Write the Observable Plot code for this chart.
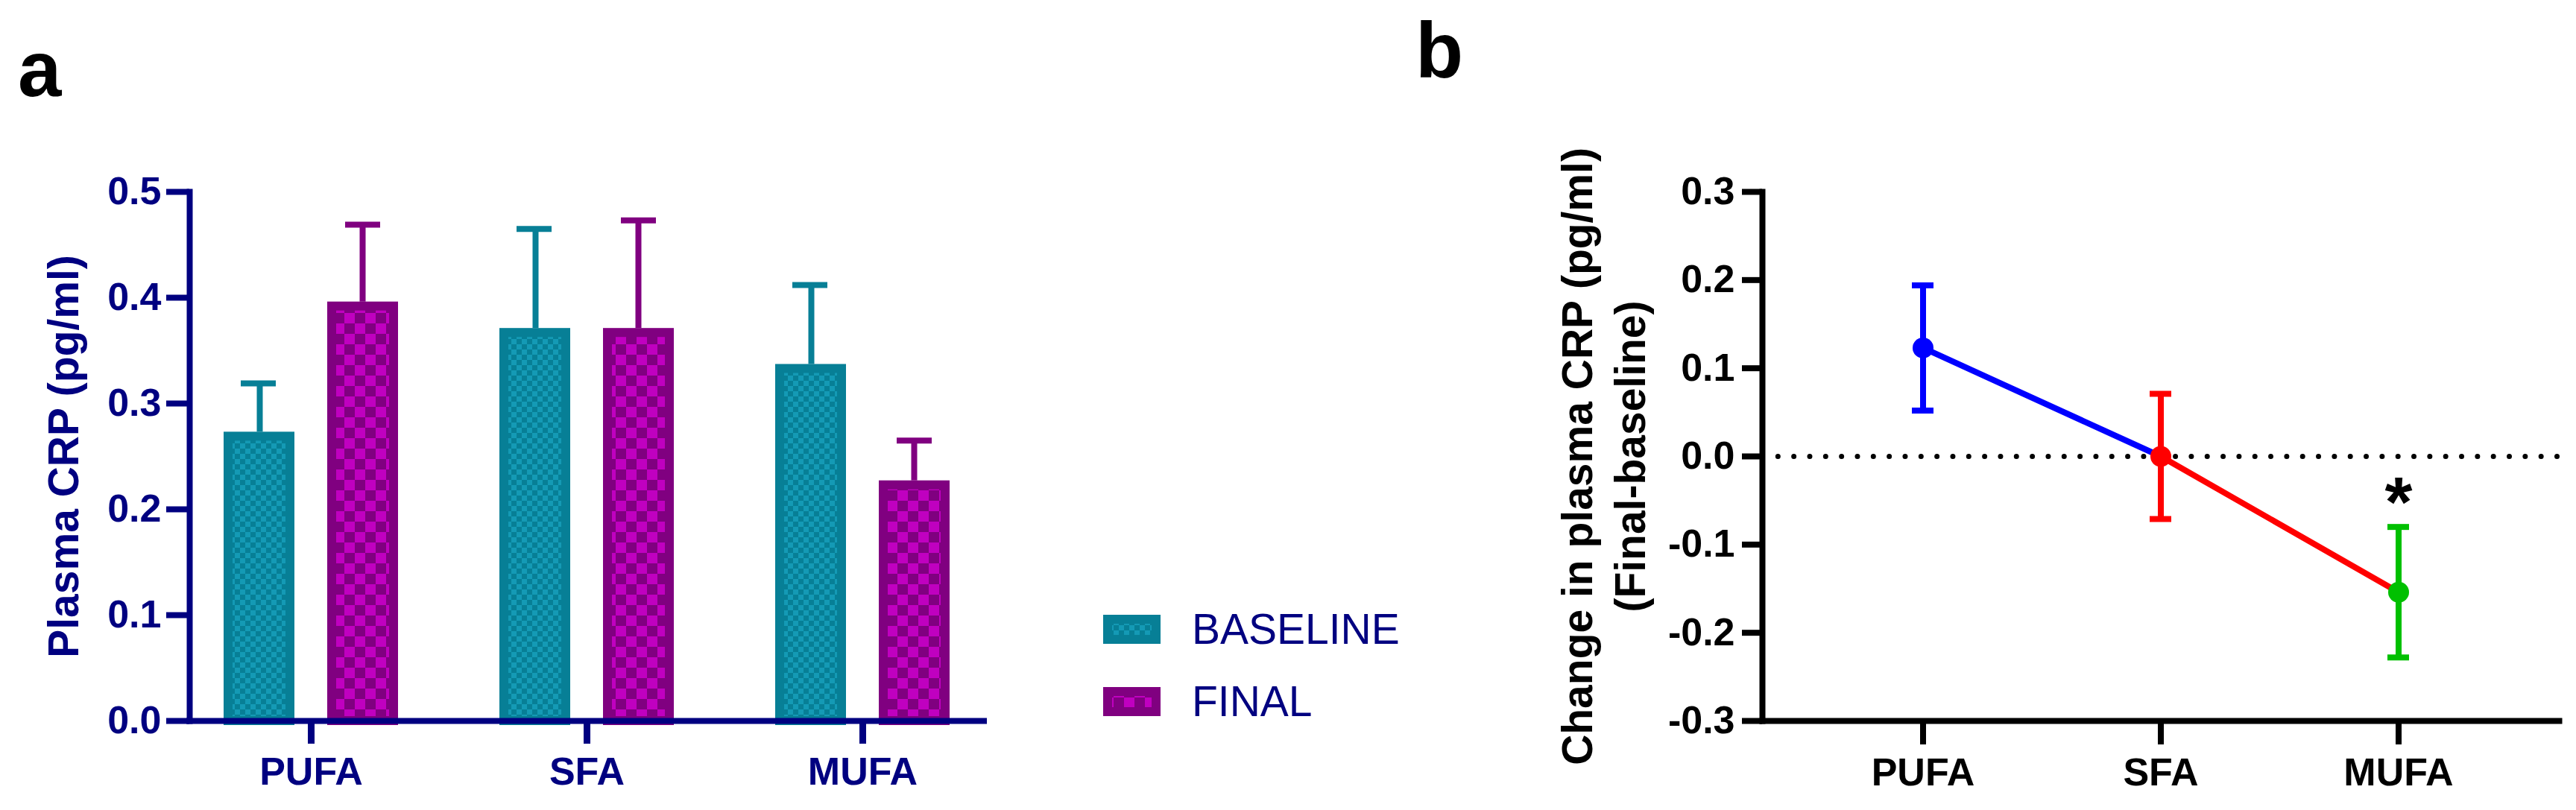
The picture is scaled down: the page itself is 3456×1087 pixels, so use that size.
<!DOCTYPE html>
<html>
<head>
<meta charset="utf-8">
<script src="https://cdn.jsdelivr.net/npm/d3@7"></script>
<script src="https://cdn.jsdelivr.net/npm/@observablehq/plot@0.6"></script>
<style>
  html, body { margin: 0; padding: 0; background: #fff; }
  #root { position: relative; width: 3456px; height: 1087px; overflow: hidden; font-family: "Liberation Sans", Arial, sans-serif; }
  .panel { position: absolute; top: 0; }
  .tag { position: absolute; font-weight: bold; font-size: 105px; line-height: 1; color: #000; }
  .lg-row { position: absolute; left: 1480px; height: 39px; display: flex; align-items: center; color: #000080; font-size: 57px; line-height: 1; }
  .lg-row svg { display: block; margin-right: 42px; }
</style>
</head>
<body>
<div id="root">
  <div class="tag" style="left:24px; top:40px;">a</div>
  <div class="tag" style="left:1899px; top:15px;">b</div>
  <div id="panelA" class="panel" style="left:0px;"></div>
  <div id="legend"></div>
  <div id="panelB" class="panel" style="left:1900px;"></div>
</div>
<script>
// ---------- data ----------
const categories = ["PUFA", "SFA", "MUFA"];
const series = ["BASELINE", "FINAL"];
const baselineMean = [0.273, 0.371, 0.337];
const baselineSE = [0.046, 0.094, 0.075];
const finalMean = [0.396, 0.371, 0.227];
const finalSE = [0.073, 0.102, 0.038];
const ticksA = [0, 0.1, 0.2, 0.3, 0.4, 0.5];

const changeMean = [0.123, 0.000, -0.154];
const changeSE = [0.071, 0.071, 0.074];
const significance = ["", "", "*"];
const ticksB = [-0.3, -0.2, -0.1, 0, 0.1, 0.2, 0.3];

const labelA = "Plasma CRP (pg/ml)";
const labelB = "Change in plasma CRP (pg/ml)\n(Final-baseline)";

// ---------- styles ----------
const NAVY = "#000080";
const TEAL = "#077f96";
const TEAL_LIGHT = "#149ab5";
const PURPLE = "#800080";
const MAGENTA = "#c000c0";
const FONT = "Liberation Sans, Arial, sans-serif";

const tableA = categories.map((c, i) => ({
  cat: c, base: baselineMean[i], baseSE: baselineSE[i], fin: finalMean[i], finSE: finalSE[i]
}));
const tableB = categories.map((c, i) => ({
  cat: c, change: changeMean[i], se: changeSE[i], sig: significance[i]
}));

const defsHTML = `
<pattern id="chkTeal" patternUnits="userSpaceOnUse" width="14" height="14">
  <rect width="14" height="14" fill="${TEAL_LIGHT}"/>
  <rect x="0" y="0" width="7" height="7" fill="${TEAL}"/>
  <rect x="7" y="7" width="7" height="7" fill="${TEAL}"/>
</pattern>
<pattern id="chkPurple" patternUnits="userSpaceOnUse" width="28" height="28">
  <rect width="28" height="28" fill="${MAGENTA}"/>
  <rect x="0" y="0" width="14" height="14" fill="${PURPLE}"/>
  <rect x="14" y="14" width="14" height="14" fill="${PURPLE}"/>
</pattern>`;

function addDefs(svg) {
  const defs = document.createElementNS("http://www.w3.org/2000/svg", "defs");
  defs.innerHTML = defsHTML;
  svg.insertBefore(defs, svg.firstChild);
}

// ---------- panel a ----------
const plotA = Plot.plot({
  width: 1400, height: 1087,
  marginLeft: 254, marginRight: 80, marginTop: 257, marginBottom: 120,
  style: { fontFamily: FONT, fontWeight: "bold", background: "transparent", overflow: "visible" },
  x: { type: "band", domain: categories, paddingInner: 0.2, paddingOuter: 0.0405, label: null },
  y: { domain: [0, 0.5], label: null },
  marks: [
    Plot.ruleX(tableA, { x: "cat", y1: "base", y2: d => d.base + d.baseSE, dx: -69, stroke: TEAL, strokeWidth: 8 }),
    Plot.tickY(tableA, { x: "cat", y: d => d.base + d.baseSE, stroke: TEAL, strokeWidth: 8, insetLeft: 54, insetRight: 195 }),
    Plot.ruleX(tableA, { x: "cat", y1: "fin", y2: d => d.fin + d.finSE, dx: 69, stroke: PURPLE, strokeWidth: 8 }),
    Plot.tickY(tableA, { x: "cat", y: d => d.fin + d.finSE, stroke: PURPLE, strokeWidth: 8, insetLeft: 194, insetRight: 55 }),
    Plot.barY(tableA, { x: "cat", y: "base", fill: "url(#chkTeal)", stroke: TEAL, strokeWidth: 12, insetLeft: 37, insetRight: 176, insetTop: 6 }),
    Plot.barY(tableA, { x: "cat", y: "fin", fill: "url(#chkPurple)", stroke: PURPLE, strokeWidth: 12, insetLeft: 176, insetRight: 37, insetTop: 6 }),
    Plot.axisY({ ticks: ticksA, tickFormat: d => d.toFixed(1), tickSize: 31, tickPadding: 7, strokeWidth: 8, color: NAVY, fontSize: 52, fontWeight: "bold", label: null }),
    Plot.axisX({ tickSize: 31, tickPadding: 18, strokeWidth: 9, color: NAVY, fontSize: 52, fontWeight: "bold", label: null }),
    Plot.frame({ anchor: "left", stroke: NAVY, strokeWidth: 8, strokeLinecap: "square" }),
    Plot.ruleY([0], { stroke: NAVY, strokeWidth: 8, strokeLinecap: "square" }),
    Plot.text([labelA], { frameAnchor: "left", textAnchor: "middle", lineAnchor: "middle", rotate: -90, dx: -168, fontSize: 57, fontWeight: "bold", fill: NAVY })
  ]
});
addDefs(plotA);
document.getElementById("panelA").appendChild(plotA);

// ---------- legend ----------
const legend = document.getElementById("legend");
const legendFills = { BASELINE: ["url(#chkTeal)", TEAL], FINAL: ["url(#chkPurple)", PURPLE] };
const legendTops = [825, 922];
series.forEach((s, i) => {
  const row = document.createElement("div");
  row.className = "lg-row";
  row.style.top = legendTops[i] + "px";
  const [fill, stroke] = legendFills[s];
  row.innerHTML = `<svg width="77" height="39"><rect x="6" y="6" width="65" height="27" fill="${fill}" stroke="${stroke}" stroke-width="12"/></svg><span>${s}</span>`;
  legend.appendChild(row);
});

// ---------- panel b ----------
const colorB = { domain: categories, range: ["#0000ff", "#ff0000", "#00c000"] };
const plotB = Plot.plot({
  width: 1556, height: 1087,
  marginLeft: 464, marginRight: 23, marginTop: 257, marginBottom: 120,
  style: { fontFamily: FONT, fontWeight: "bold", background: "transparent", overflow: "visible" },
  x: { type: "band", domain: categories, paddingInner: 0.909, paddingOuter: 0.63, label: null },
  y: { domain: [-0.3, 0.3], label: null },
  color: colorB,
  marks: [
    Plot.ruleY([0], { stroke: "#000", strokeWidth: 7, strokeDasharray: "0 21.33", strokeLinecap: "round" }),
    Plot.ruleX(tableB, { x: "cat", y1: d => d.change - d.se, y2: d => d.change + d.se, stroke: "cat", strokeWidth: 8 }),
    Plot.tickY(tableB, { x: "cat", y: d => d.change + d.se, stroke: "cat", strokeWidth: 8 }),
    Plot.tickY(tableB, { x: "cat", y: d => d.change - d.se, stroke: "cat", strokeWidth: 8 }),
    Plot.line(tableB.slice(0, 2), { x: "cat", y: "change", stroke: "#0000ff", strokeWidth: 8 }),
    Plot.line(tableB.slice(1, 3), { x: "cat", y: "change", stroke: "#ff0000", strokeWidth: 8 }),
    Plot.dot(tableB, { x: "cat", y: "change", r: 14, fill: "cat", stroke: null }),
    Plot.text(tableB, { x: "cat", y: d => d.change + d.se, text: "sig", dy: -32, fontSize: 95, fontWeight: "bold", fill: "#000" }),
    Plot.axisY({ ticks: ticksB, tickFormat: d => d.toFixed(1), tickSize: 27, tickPadding: 10, strokeWidth: 8, color: "#000", fontSize: 52, fontWeight: "bold", label: null }),
    Plot.axisX({ tickSize: 32, tickPadding: 18, strokeWidth: 8, color: "#000", fontSize: 52, fontWeight: "bold", label: null }),
    Plot.frame({ anchor: "left", stroke: "#000", strokeWidth: 8, strokeLinecap: "square" }),
    Plot.frame({ anchor: "bottom", stroke: "#000", strokeWidth: 8, strokeLinecap: "square" }),
    Plot.text([labelB], { frameAnchor: "left", textAnchor: "middle", lineAnchor: "middle", rotate: -90, dx: -216, fontSize: 57, fontWeight: "bold", lineHeight: 1.26, fill: "#000" })
  ]
});
document.getElementById("panelB").appendChild(plotB);
</script>
</body>
</html>
